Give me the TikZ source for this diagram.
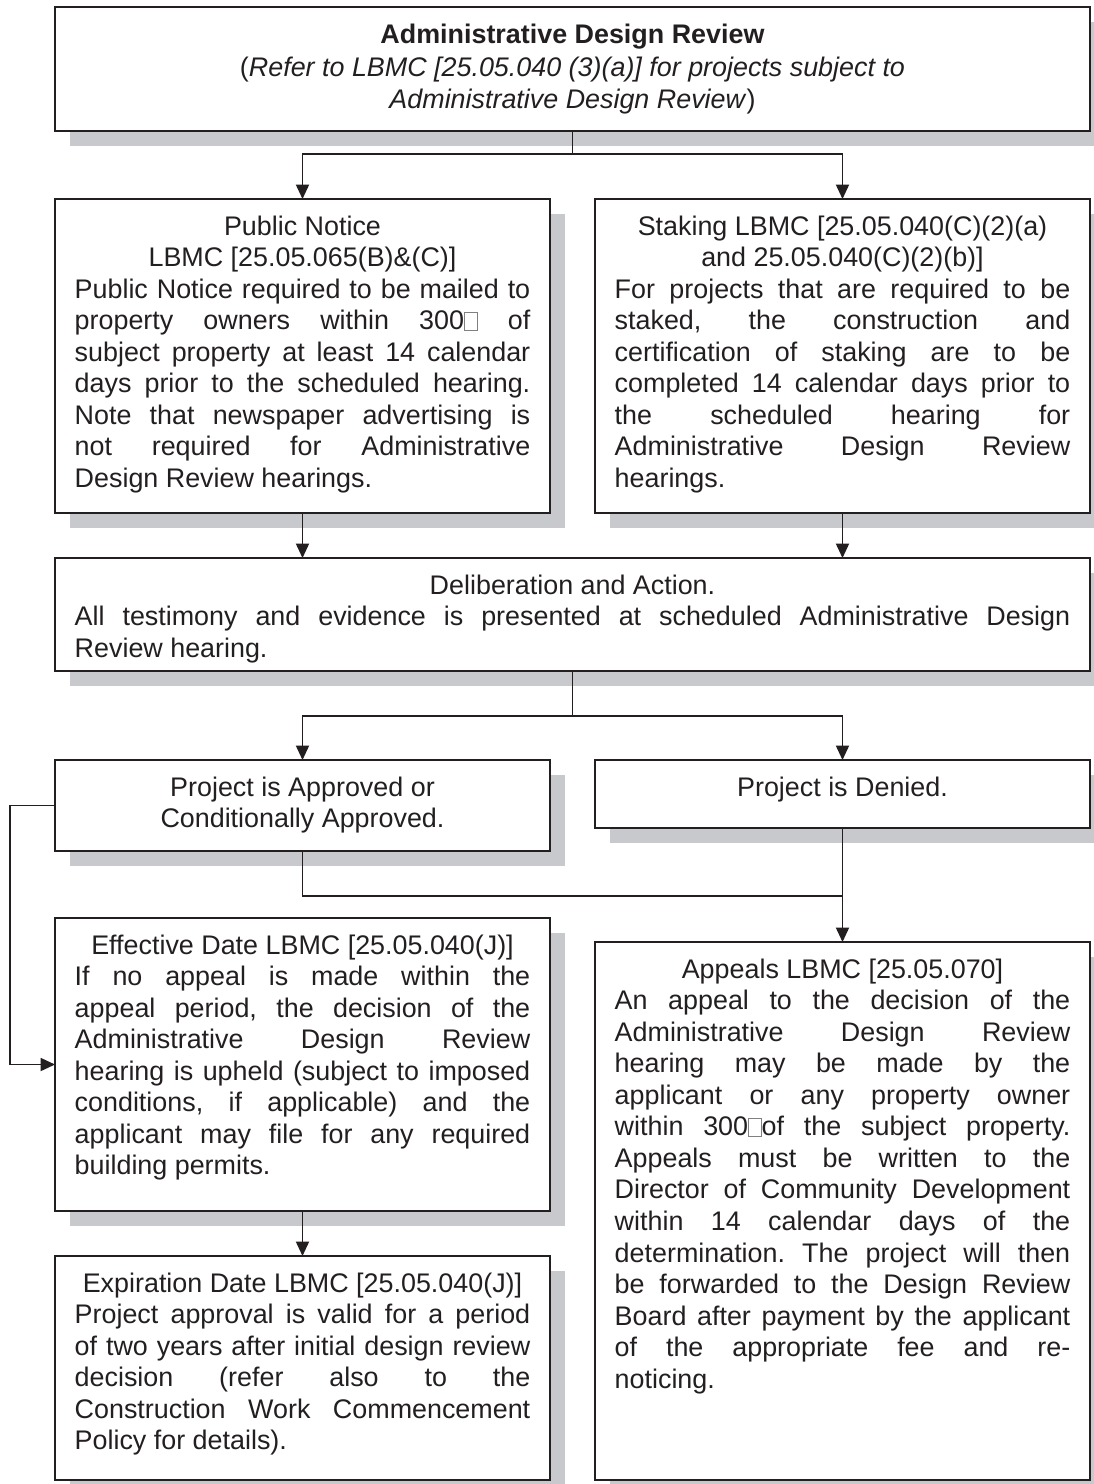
\documentclass[tikz,border=0pt]{standalone}
\usepackage{fontspec}
\setmainfont{Liberation Sans}
\usepackage{tikz}
\usetikzlibrary{positioning,calc,shadows}
\usetikzlibrary{arrows.meta}
\definecolor{ink}{RGB}{35,31,32}
\definecolor{shadegray}{RGB}{200,201,204}
\tikzstyle{arrow} = [draw=ink,line width=0.7pt,-{Triangle[length=6.5pt,width=5.9pt]}]
\tikzstyle{link} = [draw=ink,line width=0.7pt]
\newcommand{\nochar}{{\setlength{\fboxsep}{0pt}\setlength{\fboxrule}{0.3pt}\color{gray}\fbox{\rule{0pt}{7.5pt}\hspace{5.5pt}}}}
\tolerance=10000
\hbadness=10000
\hyphenpenalty=10000
\frenchspacing

\begin{document}
\begin{tikzpicture}[stage/.style={draw=ink, line width=0.9pt, fill=white, text=ink,
    drop shadow={shadow xshift=6.75pt, shadow yshift=-6.75pt, fill=shadegray, opacity=1},
    inner xsep=8.875pt, inner ysep=0pt, outer sep=0pt, text width=205pt, align=justify,
    text height=16.2pt, font=\fontsize{12.1pt}{14.2pt}\selectfont},
  widestage/.style={stage, text width=448pt}]

\useasboundingbox (0,0) rectangle (492.3pt,-667.8pt);
\clip (0,0) rectangle (492.3pt,-667.8pt);

% BOXES

\node [widestage, text depth=39.6pt, anchor=north west] (review) at (24.75pt,-3.15pt)
{%
  {\centering\textbf{Administrative Design Review}\\[1pt]
  (\textit{Refer to LBMC [25.05.040 (3)(a)] for projects subject to}\\
  \textit{Administrative Design Review})\par}};

\node [stage, text depth=125.1pt, below=30.6pt of review.south west, anchor=north west] (notice)
{%
  {\centering Public Notice\\
  LBMC [25.05.065(B)\&(C)]\par}
  Public Notice required to be mailed to\linebreak
  property owners within 300\nochar{} of\linebreak
  subject property at least 14 calendar\linebreak
  days prior to the scheduled hearing.\linebreak
  Note that newspaper advertising is\linebreak
  not required for Administrative\linebreak
  Design Review hearings.};

\node [stage, text depth=125.1pt, right=20.25pt of notice.north east, anchor=north west] (staking)
{%
  {\centering Staking LBMC [25.05.040(C)(2)(a)\\
  and 25.05.040(C)(2)(b)]\par}
  For projects that are required to be\linebreak
  staked, the construction and\linebreak
  certification of staking are to be\linebreak
  completed 14 calendar days prior to\linebreak
  the scheduled hearing for\linebreak
  Administrative Design Review\linebreak
  hearings.};

\node [widestage, text depth=34.65pt, below=20.25pt of notice.south west, anchor=north west] (deliberation)
{%
  {\centering Deliberation and Action.\par}
  All testimony and evidence is presented at scheduled Administrative Design\linebreak
  Review hearing.};

\node [stage, text depth=24.75pt, below=40.05pt of deliberation.south west, anchor=north west] (approved)
{%
  {\centering Project is Approved or\\
  Conditionally Approved.\par}};

\node [stage, text depth=14.4pt, right=20.25pt of approved.north east, anchor=north west] (denied)
{%
  {\centering Project is Denied.\par}};

\node [stage, text depth=115.65pt, below=30.15pt of approved.south west, anchor=north west] (effective)
{%
  {\centering Effective Date LBMC [25.05.040(J)]\par}
  If no appeal is made within the\linebreak
  appeal period, the decision of the\linebreak
  Administrative Design Review\linebreak
  hearing is upheld (subject to imposed\linebreak
  conditions, if applicable) and the\linebreak
  applicant may file for any required\linebreak
  building permits.};

\node [stage, text depth=225.9pt, below=51.3pt of denied.south west, anchor=north west] (appeals)
{%
  {\centering Appeals LBMC [25.05.070]\par}
  An appeal to the decision of the\linebreak
  Administrative Design Review\linebreak
  hearing may be made by the\linebreak
  applicant or any property owner\linebreak
  within 300\nochar of the subject property.\linebreak
  Appeals must be written to the\linebreak
  Director of Community Development\linebreak
  within 14 calendar days of the\linebreak
  determination. The project will then\linebreak
  be forwarded to the Design Review\linebreak
  Board after payment by the applicant\linebreak
  of the appropriate fee and re-\linebreak
  noticing.};

\node [stage, text depth=84.6pt, below=20.25pt of effective.south west, anchor=north west] (expiration)
{%
  {\centering Expiration Date LBMC [25.05.040(J)]\par}
  Project approval is valid for a period\linebreak
  of two years after initial design review\linebreak
  decision (refer also to the\linebreak
  Construction Work Commencement\linebreak
  Policy for details).};

% CONNECTORS

\draw[arrow] (review.south) -- ++(0,-10.35pt) -| (notice.north);
\draw[arrow] (review.south) -- ++(0,-10.35pt) -| (staking.north);
\draw[arrow] (notice.south) -- (notice.south |- deliberation.north);
\draw[arrow] (staking.south) -- (staking.south |- deliberation.north);
\draw[arrow] (deliberation.south) -- ++(0,-20.25pt) -| (approved.north);
\draw[arrow] (deliberation.south) -- ++(0,-20.25pt) -| (denied.north);
\draw[link] (approved.south) -- ++(0,-20.25pt) -| (denied.south);
\draw[arrow] (denied.south) -- (appeals.north);
\draw[arrow] (approved.west) -- ++(-20.25pt,0) |- (effective.west);
\draw[arrow] (effective.south) -- (expiration.north);

\end{tikzpicture}
\end{document}
